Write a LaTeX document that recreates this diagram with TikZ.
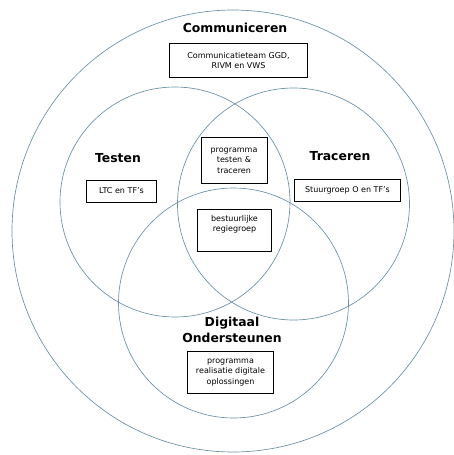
\documentclass[tikz,border=0pt]{standalone}
\usepackage{fontspec}
\setmainfont{DejaVu Sans}
\usepackage{tikz}
\definecolor{ringblue}{RGB}{105,145,165}
\tikzset{every picture/.style={line width=0.5pt}}
\tikzset{
  ring/.style={draw=ringblue, line width=0.5pt},
  title/.style={font=\bfseries\fontsize{9.3}{12.5}\selectfont, align=center, inner sep=0pt},
  infobox/.style={draw, line width=0.6pt, align=center, inner sep=0pt,
    font=\fontsize{6}{8}\selectfont},
}

\begin{document}
\begin{tikzpicture}[x=0.75pt,y=0.75pt,yscale=-1,xscale=1]
\useasboundingbox (0,0) rectangle (454,455);

%Shape: Circle [outer]
\draw [ring] (233,231) circle [radius=221];
%Shape: Circle [testen]
\draw [ring] (175,202) circle [radius=115];
%Shape: Circle [traceren]
\draw [ring] (293.5,204) circle [radius=116];
%Shape: Circle [digitaal]
\draw [ring] (233.5,303) circle [radius=115];

% Text Node
\node [title] (communiceren) at (235,28) {Communiceren};
% Text Node
\node [infobox, minimum width=104pt, minimum height=25pt] (commteam) at (238.5,60.5) {Communicatieteam GGD,\\RIVM en VWS};

% Text Node
\node [title] (testen) at (118,158) {Testen};
% Text Node
\node [infobox, minimum width=52pt, minimum height=16.5pt] (ltc) at (121.5,191) {LTC en TF's};

% Text Node
\node [title] (traceren) at (340,156) {Traceren};
% Text Node
\node [infobox, minimum width=80pt, minimum height=16pt] (stuurgroep) at (347.5,190.5) {Stuurgroep O en TF's};

% Text Node
\node [infobox, minimum width=49.5pt, minimum height=34pt] (progtt) at (234,160.5) {programma\\testen \&\\traceren};
% Text Node
\node [infobox, minimum width=56pt, minimum height=32pt] (regiegroep) at (234.5,230.5) {bestuurlijke\\regiegroep\\\strut};

% Text Node
\node [title] (digitaal) at (232,330) {Digitaal\\Ondersteunen};
% Text Node
\node [infobox, minimum width=65pt, minimum height=31pt] (progdig) at (230.5,372.5) {programma\\realisatie digitale\\oplossingen};

\end{tikzpicture}
\end{document}
